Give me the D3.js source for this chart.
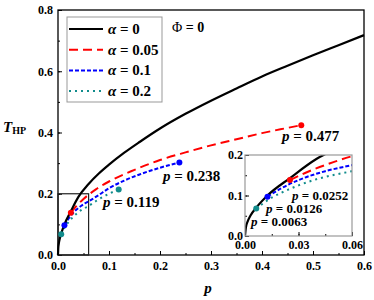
<!DOCTYPE html>
<html>
<head>
<meta charset="utf-8">
<script src="https://cdn.jsdelivr.net/npm/d3@7"></script>
<style>
  body { margin: 0; background: #fff; }
  svg text { font-family: 'Liberation Serif', 'Times New Roman', serif; font-weight: bold; fill: #000; }
</style>
</head>
<body>
<script>
/* global d3 */
(function () {
  'use strict'

  // alpha = 0
  var blackP = [0, 0.0005, 0.0015, 0.003, 0.0063, 0.0126, 0.0252, 0.04, 0.06, 0.08, 0.1, 0.13, 0.16, 0.2, 0.25, 0.3, 0.35, 0.4, 0.45, 0.5, 0.55, 0.6]
  var blackT = [0, 0.021, 0.036, 0.05, 0.07, 0.1, 0.143, 0.19, 0.232, 0.266, 0.295, 0.334, 0.369, 0.413, 0.461, 0.504, 0.544, 0.583, 0.618, 0.652, 0.685, 0.718]
  // alpha = 0.05
  var redP = [0.0252, 0.035, 0.05, 0.075, 0.1, 0.15, 0.2, 0.25, 0.3, 0.35, 0.4, 0.45, 0.477]
  var redT = [0.138, 0.158, 0.183, 0.215, 0.24, 0.278, 0.31, 0.335, 0.358, 0.378, 0.398, 0.415, 0.424]
  // alpha = 0.1
  var blueP = [0.0126, 0.02, 0.03, 0.045, 0.06, 0.08, 0.1, 0.13, 0.16, 0.2, 0.238]
  var blueT = [0.097, 0.117, 0.138, 0.16, 0.175, 0.196, 0.218, 0.243, 0.263, 0.285, 0.302]
  // alpha = 0.2
  var tealP = [0.0063, 0.01, 0.015, 0.02, 0.03, 0.04, 0.05, 0.06, 0.08, 0.1, 0.119]
  var tealT = [0.068, 0.08, 0.095, 0.106, 0.125, 0.14, 0.151, 0.16, 0.182, 0.2, 0.214]

  var legendLabels = ['0', '0.05', '0.1', '0.2']
  var endLabels = ['0.477', '0.238', '0.119']
  var startLabels = ['0.0252', '0.0126', '0.0063']
  var xTicks = [0, 0.1, 0.2, 0.3, 0.4, 0.5, 0.6]
  var yTicks = [0, 0.2, 0.4, 0.6, 0.8]
  var insetXTicks = [0, 0.03, 0.06]
  var insetYTicks = [0, 0.1, 0.2]

  function zip (ps, ts) {
    return ps.map(function (p, i) { return { p: p, t: ts[i] } })
  }

  var series = [
    { name: legendLabels[0], color: '#000', dash: null, width: 2.2, data: zip(blackP, blackT) },
    { name: legendLabels[1], color: '#ff0000', dash: '9,5', width: 2, data: zip(redP, redT) },
    { name: legendLabels[2], color: '#0000ff', dash: '4,2', width: 2, data: zip(blueP, blueT) },
    { name: legendLabels[3], color: '#118c8c', dash: '2,4', width: 2, data: zip(tealP, tealT) }
  ]

  var svg = d3.select('body').append('svg')
    .attr('width', 374)
    .attr('height', 300)

  // main scales
  var x = d3.scaleLinear().domain([0, 0.6]).range([58, 364])
  var y = d3.scaleLinear().domain([0, 0.8]).range([255, 10])

  plotFrame(svg, x, y, {
    xTicks: xTicks, yTicks: yTicks,
    xMinor: d3.range(0, 0.61, 0.05), yMinor: d3.range(0, 0.81, 0.1),
    xFmt: '.1f', yFmt: '.1f', size: 12, xPad: 6, yPad: 5, stroke: '#000', sw: 1.3
  })

  // zoom box
  svg.append('rect')
    .attr('x', x(0)).attr('y', y(0.2))
    .attr('width', x(0.06) - x(0)).attr('height', y(0) - y(0.2))
    .attr('fill', 'none').attr('stroke', '#222').attr('stroke-width', 1.2)

  plotLines(svg, series, x, y, null)
  plotDots(svg, series, x, y)

  // inset
  var xi = d3.scaleLinear().domain([0, 0.06]).range([245, 352])
  var yi = d3.scaleLinear().domain([0, 0.2]).range([236, 155])

  svg.append('rect')
    .attr('x', 245).attr('y', 155).attr('width', 107).attr('height', 81)
    .attr('fill', '#fff')

  svg.append('clipPath').attr('id', 'inset-clip')
    .append('rect')
    .attr('x', 245).attr('y', 155).attr('width', 107).attr('height', 81)

  plotLines(svg, series, xi, yi, 'url(#inset-clip)')
  plotDots(svg, series, xi, yi)

  plotFrame(svg, xi, yi, {
    xTicks: insetXTicks, yTicks: insetYTicks,
    xMinor: d3.range(0, 0.061, 0.015), yMinor: d3.range(0, 0.21, 0.05),
    xFmt: '.2f', yFmt: '.1f', size: 12, xPad: 4, yPad: 2, stroke: '#999', sw: 1.2
  })

  // end labels
  var mainLabelPos = [[282, 141], [163, 181], [103, 207]]
  endLabels.forEach(function (v, i) {
    pLabel(svg, mainLabelPos[i][0], mainLabelPos[i][1], v, 15)
  })
  var insetLabelPos = [[292, 200], [266, 213], [251, 226]]
  startLabels.forEach(function (v, i) {
    pLabel(svg, insetLabelPos[i][0], insetLabelPos[i][1], v, 13)
  })

  // legend
  var lg = svg.append('g')
  lg.append('rect')
    .attr('x', 67).attr('y', 17).attr('width', 95).attr('height', 85)
    .attr('fill', '#fff').attr('stroke', '#999').attr('stroke-width', 1)
  series.forEach(function (s, i) {
    var ly = 29 + i * 20.7
    lg.append('line')
      .attr('x1', 69).attr('x2', 103).attr('y1', ly).attr('y2', ly)
      .attr('stroke', s.color).attr('stroke-width', s.width)
      .attr('stroke-dasharray', s.dash)
    var t = lg.append('text').attr('x', 108).attr('y', ly + 5).style('font-size', '15px')
    t.append('tspan').style('font-style', 'italic').text('α')
    t.append('tspan').text(' = ' + s.name)
  })

  // phi note
  var phi = svg.append('text').attr('x', 172).attr('y', 32).style('font-size', '14px')
  phi.append('tspan').style('font-weight', 'normal').text('Φ')
  phi.append('tspan').text(' = 0')

  // axis titles
  var yt = svg.append('text').attr('x', 3).attr('y', 132).style('font-size', '15px')
  yt.append('tspan').style('font-style', 'italic').text('T')
  yt.append('tspan').attr('dy', 2).style('font-size', '10px').text('HP')

  svg.append('text').attr('x', 208).attr('y', 293)
    .attr('text-anchor', 'middle')
    .style('font-size', '15px').style('font-style', 'italic')
    .text('p')

  function pLabel (ctx, px, py, val, size) {
    var t = ctx.append('text').attr('x', px).attr('y', py).style('font-size', size + 'px')
    t.append('tspan').style('font-style', 'italic').text('p')
    t.append('tspan').text(' = ' + val)
  }

  function plotLines (ctx, series, sx, sy, clip) {
    var line = d3.line()
      .x(function (d) { return sx(d.p) })
      .y(function (d) { return sy(d.t) })
      .curve(d3.curveMonotoneX)
    var g = ctx.append('g').attr('clip-path', clip)
    g.selectAll('path').data(series.slice().reverse())
      .enter().append('path')
        .attr('d', function (d) { return line(d.data) })
        .attr('fill', 'none')
        .attr('stroke', function (d) { return d.color })
        .attr('stroke-width', function (d) { return d.width })
        .attr('stroke-dasharray', function (d) { return d.dash })
  }

  function plotDots (ctx, series, sx, sy) {
    var dx = sx.domain()[1]
    var pts = []
    series.slice(1).forEach(function (s) {
      var a = s.data[0]
      var b = s.data[s.data.length - 1]
      pts.push({ d: a, c: s.color })
      if (b.p <= dx) pts.push({ d: b, c: s.color })
    })
    ctx.append('g').selectAll('circle').data(pts.filter(function (o) { return o.d.p <= dx }))
      .enter().append('circle')
        .attr('cx', function (o) { return sx(o.d.p) })
        .attr('cy', function (o) { return sy(o.d.t) })
        .attr('r', 3)
        .attr('fill', function (o) { return o.c })
  }

  function plotFrame (ctx, sx, sy, o) {
    var x0 = sx.range()[0]
    var x1 = sx.range()[1]
    var y0 = sy.range()[0]
    var y1 = sy.range()[1]
    var g = ctx.append('g')

    var bottomMinor = d3.axisBottom(sx).tickValues(o.xMinor).tickSize(-2).tickFormat('')
    var bottomAxis = d3.axisBottom(sx).tickValues(o.xTicks).tickSize(-4)
      .tickPadding(o.xPad).tickFormat(d3.format(o.xFmt))
    var leftMinor = d3.axisLeft(sy).tickValues(o.yMinor).tickSize(-2).tickFormat('')
    var leftAxis = d3.axisLeft(sy).tickValues(o.yTicks).tickSize(-4)
      .tickPadding(o.yPad).tickFormat(d3.format(o.yFmt))

    var axes = [
      g.append('g').attr('transform', 'translate(0,' + y0 + ')').call(bottomMinor),
      g.append('g').attr('transform', 'translate(0,' + y0 + ')').call(bottomAxis),
      g.append('g').attr('transform', 'translate(' + x0 + ',0)').call(leftMinor),
      g.append('g').attr('transform', 'translate(' + x0 + ',0)').call(leftAxis)
    ]
    axes.forEach(function (a) {
      a.select('.domain').remove()
      a.selectAll('line').attr('stroke', '#000').attr('stroke-width', 1)
      a.selectAll('text').attr('font-family', null).attr('font-size', null)
        .style('font-size', o.size + 'px')
    })

    g.append('rect')
      .attr('x', x0).attr('y', y1)
      .attr('width', x1 - x0).attr('height', y0 - y1)
      .attr('fill', 'none').attr('stroke', o.stroke).attr('stroke-width', o.sw)
  }
}())
</script>
</body>
</html>
